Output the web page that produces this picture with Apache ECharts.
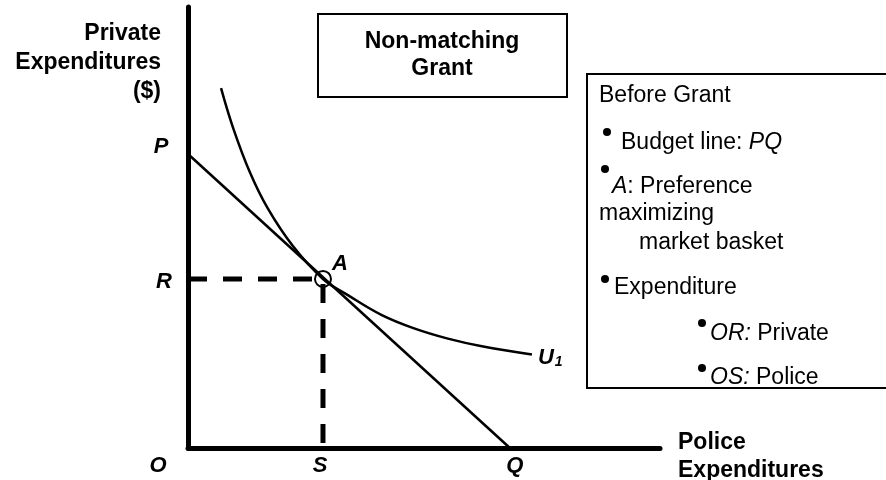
<!DOCTYPE html>
<html>
<head>
<meta charset="utf-8">
<script src="https://cdn.jsdelivr.net/npm/echarts@6/dist/echarts.min.js"></script>
<style>
html,body{margin:0;padding:0;background:#fff;}
#chart{width:886px;height:480px;}
</style>
</head>
<body>
<div id="chart"></div>
<script>
// ---- data (axis units) ----
const budgetLine = [[0, 10], [10.23, 0]];           // P -> Q
const indifferenceCurve = [
  [1.05, 12.24], [1.43, 10.9], [1.97, 9.37], [2.54, 8.14], [3.34, 6.86],
  [4.29, 5.75], [5.08, 5.2], [6.16, 4.52], [7.21, 4.06], [8.26, 3.72],
  [9.34, 3.46], [10.93, 3.18]
];
const pointA = [4.29, 5.75];
const dashedGuide = [[0, 5.75], [4.29, 5.75], [4.29, 0]];  // R -> A -> S
const pointLabels = [
  { name: 'P', value: [0, 10], offset: [-27, -8] },
  { name: 'R', value: [0, 5.75], offset: [-24, 2] },
  { name: 'O', value: [0, 0], offset: [-30, 17] },
  { name: 'S', value: [4.29, 0], offset: [-3, 17] },
  { name: 'Q', value: [10.23, 0], offset: [5, 17] },
  { name: 'A', value: [4.29, 5.75], offset: [17, -16] }
];
const curveLabel = 'U';
const yTitle = ['Private', 'Expenditures', '($)'];
const xTitle = ['Police', 'Expenditures'];
const grantTitle = ['Non-matching', 'Grant'];

const FONT = '"Liberation Sans", Arial, sans-serif';
const chart = echarts.init(document.getElementById('chart'), null, { renderer: 'canvas' });

const labelStyle = {
  fontFamily: FONT, fontSize: 22, fontWeight: 'bold', fontStyle: 'italic', color: '#000', opacity: 1
};

const option = {
  animation: false,
  backgroundColor: '#fff',
  grid: { left: 188, right: 226, top: 7, bottom: 32 },
  xAxis: {
    type: 'value', min: 0, max: 15,
    axisLine: { show: true, lineStyle: { color: '#000', width: 5 } },
    axisTick: { show: false }, axisLabel: { show: false }, splitLine: { show: false }
  },
  yAxis: {
    type: 'value', min: 0, max: 15,
    axisLine: { show: true, lineStyle: { color: '#000', width: 5 } },
    axisTick: { show: false }, axisLabel: { show: false }, splitLine: { show: false }
  },
  series: [
    {
      type: 'line', data: dashedGuide, symbol: 'none', z: 2,
      lineStyle: { color: '#000', width: 5, type: [19, 16] }
    },
    {
      type: 'line', data: budgetLine, symbol: 'none', z: 3,
      lineStyle: { color: '#000', width: 2.5 }
    },
    {
      type: 'line', data: indifferenceCurve, symbol: 'none', smooth: 0.4, z: 3,
      lineStyle: { color: '#000', width: 2.5 },
      endLabel: {
        show: true, formatter: '{u|' + curveLabel + '}{s|1}', offset: [-2, 3],
        rich: {
          u: { fontFamily: FONT, fontSize: 22, fontWeight: 'bold', fontStyle: 'italic', color: '#000' },
          s: { fontFamily: FONT, fontSize: 14, fontWeight: 'bold', fontStyle: 'italic', color: '#000', padding: [10, 0, 0, 1] }
        }
      }
    },
    {
      type: 'scatter', data: [pointA], symbol: 'circle', symbolSize: 16, z: 4,
      itemStyle: { color: 'rgba(0,0,0,0)', borderColor: '#000', borderWidth: 2, opacity: 1 }
    },
    {
      type: 'scatter', symbolSize: 1, z: 5, silent: true,
      itemStyle: { color: 'rgba(0,0,0,0)', opacity: 1 },
      data: pointLabels.map(p => ({
        name: p.name, value: p.value,
        label: { show: true, position: 'top', distance: 0, offset: [p.offset[0], p.offset[1] + 12], formatter: p.name, ...labelStyle }
      }))
    }
  ],
  graphic: [
    {
      type: 'text', x: 161, y: 19,
      style: { text: yTitle.join('\n'), font: 'bold 23px ' + FONT, fill: '#000',
        textAlign: 'right', textVerticalAlign: 'top', lineHeight: 29 }
    },
    {
      type: 'text', x: 678, y: 429,
      style: { text: xTitle.join('\n'), font: 'bold 23px ' + FONT, fill: '#000',
        textAlign: 'left', textVerticalAlign: 'top', lineHeight: 28 }
    },
    {
      type: 'rect', shape: { x: 318, y: 14, width: 249, height: 83 },
      style: { fill: '#fff', stroke: '#000', lineWidth: 2 }
    },
    {
      type: 'text', x: 442, y: 55,
      style: { text: grantTitle.join('\n'), font: 'bold 23px ' + FONT, fill: '#000',
        textAlign: 'center', textVerticalAlign: 'middle', lineHeight: 27 }
    },
    {
      type: 'rect', shape: { x: 587, y: 74, width: 310, height: 314 },
      style: { fill: '#fff', stroke: '#000', lineWidth: 2 }
    },
    { type: 'text', x: 599, y: 96, style: { text: 'Before Grant', font: '23px ' + FONT, fill: '#000', textVerticalAlign: 'middle' } },
    { type: 'circle', shape: { cx: 607, cy: 132, r: 4 }, style: { fill: '#000' } },
    { type: 'text', x: 621, y: 143, style: { text: '{n|Budget line: }{i|PQ}', fill: '#000', textVerticalAlign: 'middle',
      rich: { n: { font: '23px ' + FONT }, i: { font: 'italic 23px ' + FONT } } } },
    { type: 'circle', shape: { cx: 605, cy: 169, r: 4 }, style: { fill: '#000' } },
    { type: 'text', x: 612, y: 187, style: { text: '{i|A}{n|: Preference}', fill: '#000', textVerticalAlign: 'middle',
      rich: { n: { font: '23px ' + FONT }, i: { font: 'italic 23px ' + FONT } } } },
    { type: 'text', x: 599, y: 214, style: { text: 'maximizing', font: '23px ' + FONT, fill: '#000', textVerticalAlign: 'middle' } },
    { type: 'text', x: 639, y: 243, style: { text: 'market basket', font: '23px ' + FONT, fill: '#000', textVerticalAlign: 'middle' } },
    { type: 'circle', shape: { cx: 605, cy: 279, r: 4 }, style: { fill: '#000' } },
    { type: 'text', x: 614, y: 288, style: { text: 'Expenditure', font: '23px ' + FONT, fill: '#000', textVerticalAlign: 'middle' } },
    { type: 'circle', shape: { cx: 702, cy: 323, r: 4 }, style: { fill: '#000' } },
    { type: 'text', x: 710, y: 334, style: { text: '{i|OR:}{n| Private}', fill: '#000', textVerticalAlign: 'middle',
      rich: { n: { font: '23px ' + FONT }, i: { font: 'italic 23px ' + FONT } } } },
    { type: 'circle', shape: { cx: 702, cy: 368, r: 4 }, style: { fill: '#000' } },
    { type: 'text', x: 710, y: 378, style: { text: '{i|OS:}{n| Police}', fill: '#000', textVerticalAlign: 'middle',
      rich: { n: { font: '23px ' + FONT }, i: { font: 'italic 23px ' + FONT } } } }
  ]
};
chart.setOption(option);
</script>
</body>
</html>
